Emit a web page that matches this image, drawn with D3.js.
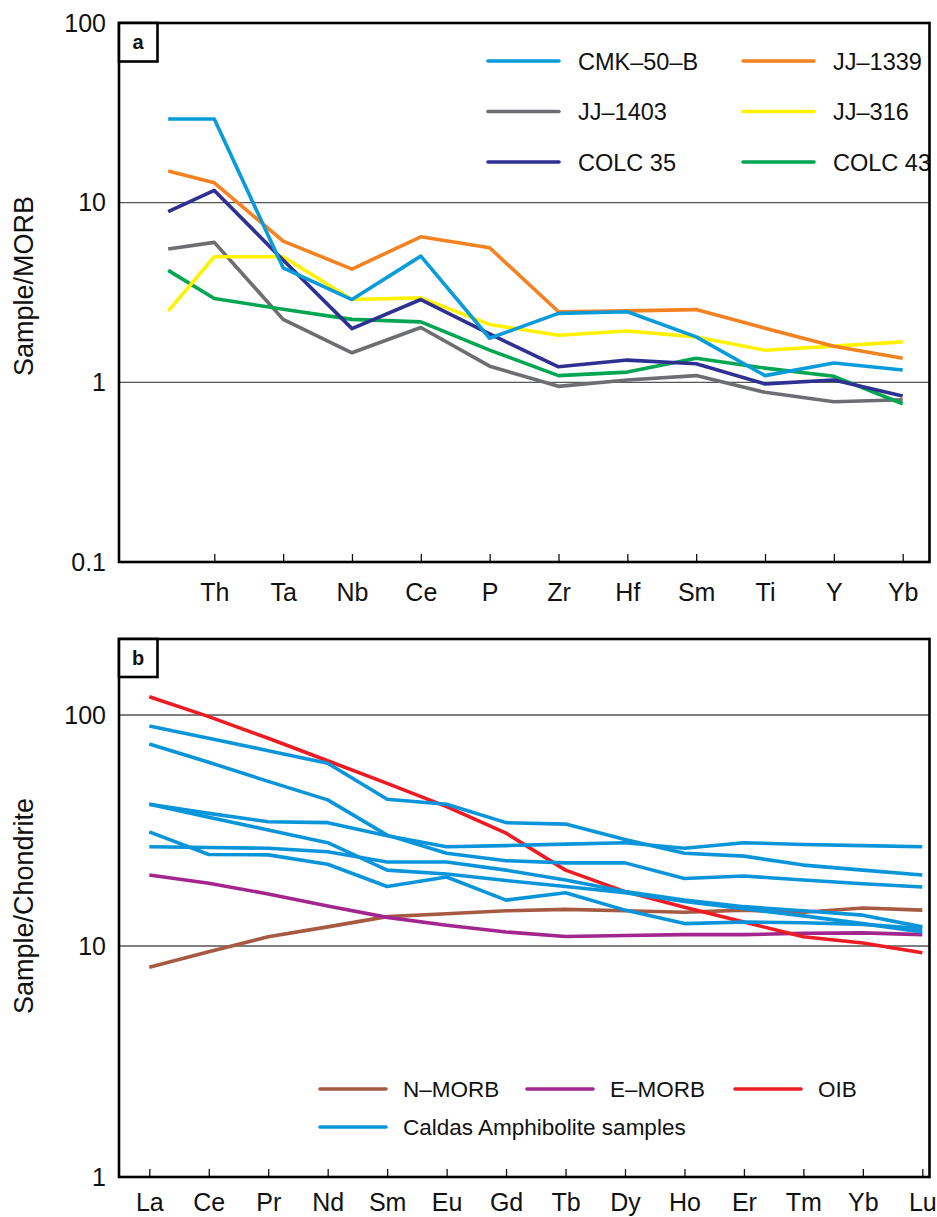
<!DOCTYPE html>
<html>
<head>
<meta charset="utf-8">
<script src="https://cdn.jsdelivr.net/npm/d3@7"></script>
<style>
  body { margin: 0; background: #fff; }
  text { font-family: "Liberation Sans", Arial, Helvetica, sans-serif; fill: #111; }
</style>
</head>
<body>
<script>
// ---- panel a : MORB normalised ----
var elementsA = ["", "Th", "Ta", "Nb", "Ce", "P", "Zr", "Hf", "Sm", "Ti", "Y", "Yb"];
var namesA = ["CMK–50–B", "JJ–1339", "JJ–1403", "JJ–316", "COLC 35", "COLC 43"];
var cmk50b  = [29.2, 29.2, 4.34, 2.89, 5.04, 1.76, 2.42, 2.47, 1.79, 1.09, 1.28, 1.17];
var jj1339  = [15.0, 12.9, 6.11, 4.27, 6.46, 5.61, 2.47, 2.50, 2.54, 2.00, 1.59, 1.36];
var jj1403  = [5.52, 6.01, 2.24, 1.46, 2.02, 1.23, 0.95, 1.03, 1.09, 0.88, 0.78, 0.80];
var jj316   = [2.49, 5.00, 5.00, 2.89, 2.95, 2.10, 1.83, 1.93, 1.79, 1.51, 1.59, 1.68];
var colc35  = [8.91, 11.7, 4.79, 1.99, 2.89, 1.86, 1.22, 1.33, 1.27, 0.98, 1.03, 0.84];
var colc43  = [4.20, 2.93, 2.55, 2.24, 2.17, 1.51, 1.09, 1.14, 1.36, 1.20, 1.08, 0.76];
var ticksA = [0.1, 1, 10, 100];

// ---- panel b : chondrite normalised REE ----
var elementsB = ["La", "Ce", "Pr", "Nd", "Sm", "Eu", "Gd", "Tb", "Dy", "Ho", "Er", "Tm", "Yb", "Lu"];
var nmorb = [8.09, 9.45, 10.97, 12.1, 13.4, 13.8, 14.2, 14.4, 14.2, 14.0, 14.3, 14.0, 14.6, 14.3];
var emorb = [20.3, 18.7, 16.8, 14.9, 13.3, 12.3, 11.5, 11.0, 11.1, 11.2, 11.2, 11.35, 11.4, 11.2];
var oib   = [120, 98.4, 79.3, 63.4, 50.6, 40.1, 30.8, 21.3, 17.2, 14.7, 12.7, 10.97, 10.3, 9.35];
var caldas1 = [89.6, 79.3, 70.1, 61.8, 43.2, 41.1, 34.2, 33.7, 28.9, 25.2, 24.5, 22.4, 21.3, 20.3];
var caldas2 = [74.9, 62.4, 51.6, 42.9, 30.2, 25.2, 23.4, 22.9, 22.9, 19.6, 20.1, 19.3, 18.6, 18.0];
var caldas3 = [41.1, 37.5, 34.5, 34.2, 30.0, 26.9, 27.2, 27.6, 28.0, 26.5, 28.0, 27.5, 27.2, 26.9];
var caldas4 = [41.1, 36.1, 31.8, 28.0, 21.3, 20.5, 19.2, 18.1, 17.0, 15.6, 14.5, 13.5, 12.5, 11.5];
var caldas5 = [31.2, 24.9, 24.8, 22.6, 18.1, 19.9, 15.8, 17.0, 14.3, 12.5, 12.7, 12.6, 12.4, 11.9];
var caldas6 = [26.9, 26.7, 26.5, 25.6, 23.1, 23.1, 21.3, 19.3, 17.2, 15.8, 14.8, 14.2, 13.6, 12.1];
var ticksB = [1, 10, 100];
var legendB = ["N–MORB", "E–MORB", "OIB", "Caldas Amphibolite samples"];

var colA = { "CMK–50–B": "#0a9bdb", "JJ–1339": "#f58220", "JJ–1403": "#6d6e71",
             "JJ–316": "#fff200", "COLC 35": "#2e3192", "COLC 43": "#00a651" };
var colB = { "N–MORB": "#a65a42", "E–MORB": "#a3268f", "OIB": "#ed1c24",
             "Caldas Amphibolite samples": "#0a95db" };

var W = 937, H = 1217;
var svg = d3.select('body').append('svg')
  .attr('width', W)
  .attr('height', H);

var frameL = 119, frameR = 929.5;

// ---------- panel a ----------
var topA = 23, botA = 562;
var ya = d3.scaleLog().domain([0.1, 100]).range([botA, topA]);
var xa = d3.scaleLinear().domain([1, 11]).range([214.3, 902.7]);
var firstOffset = 0.67; // unlabelled first element sits closer to Th
function posA(i) { return i === 0 ? xa(1 - firstOffset) : xa(i); }

var gA = svg.append('g');
[1, 10].forEach(function(v) {
  gA.append('line')
    .attr('x1', frameL).attr('x2', frameR)
    .attr('y1', ya(v)).attr('y2', ya(v))
    .attr('stroke', '#555').attr('stroke-width', 1.3);
});

var yAxisA = d3.axisLeft(ya).tickValues(ticksA).tickFormat(d3.format("~g"))
  .tickSize(0).tickPadding(13);
gA.append('g').attr('transform', 'translate(' + frameL + ',0)').call(yAxisA)
  .call(function(g) { g.select('.domain').remove(); })
  .selectAll('text').attr('font-size', 25).attr('font-family', 'Liberation Sans, Arial, sans-serif').attr('fill', '#111');

var xAxisA = d3.axisBottom(xa).tickValues(d3.range(1, 12))
  .tickFormat(function(i) { return elementsA[i]; })
  .tickSize(-8).tickPadding(21);
gA.append('g').attr('transform', 'translate(0,' + botA + ')').call(xAxisA)
  .call(function(g) { g.select('.domain').remove(); })
  .call(function(g) { g.selectAll('line').attr('stroke', '#111').attr('stroke-width', 1.3); })
  .selectAll('text').attr('font-size', 25).attr('font-family', 'Liberation Sans, Arial, sans-serif').attr('fill', '#111');

var lineA = d3.line().x(function(d, i) { return posA(i); }).y(function(d) { return ya(d); });
var seriesA = [
  { name: "JJ–1403", v: jj1403 },
  { name: "COLC 43", v: colc43 },
  { name: "JJ–316", v: jj316 },
  { name: "JJ–1339", v: jj1339 },
  { name: "COLC 35", v: colc35 },
  { name: "CMK–50–B", v: cmk50b }
];
seriesA.forEach(function(s) {
  gA.append('path')
    .attr('d', lineA(s.v))
    .attr('fill', 'none')
    .attr('stroke', colA[s.name])
    .attr('stroke-width', 3.6)
    .attr('stroke-linejoin', 'round');
});

// legend a, two columns
namesA.forEach(function(n, i) {
  var lx = (i % 2 === 0) ? 488 : 743;
  var ly = 61 + Math.floor(i / 2) * 50.5;
  gA.append('line').attr('x1', lx).attr('x2', lx + 71).attr('y1', ly).attr('y2', ly)
    .attr('stroke', colA[n]).attr('stroke-width', 3.6).attr('stroke-linecap', 'round');
  gA.append('text').attr('x', lx + 90).attr('y', ly + 8.5).attr('font-size', 23.5).text(n);
});

gA.append('rect').attr('x', frameL).attr('y', topA).attr('width', frameR - frameL).attr('height', botA - topA)
  .attr('fill', 'none').attr('stroke', '#000').attr('stroke-width', 2.6);
gA.append('rect').attr('x', frameL).attr('y', topA).attr('width', 38.5).attr('height', 38.5)
  .attr('fill', '#fff').attr('stroke', '#000').attr('stroke-width', 2.6);
gA.append('text').attr('x', frameL + 19).attr('y', topA + 26).attr('text-anchor', 'middle')
  .attr('font-size', 20).attr('font-weight', 'bold').text('a');

svg.append('text')
  .attr('transform', 'translate(33,286) rotate(-90)')
  .attr('text-anchor', 'middle').attr('font-size', 27).text('Sample/MORB');

// ---------- panel b ----------
var topB = 639, botB = 1177;
var yb = d3.scaleLog().domain([1, 100]).range([botB, 715]);
var xb = d3.scalePoint().domain(elementsB).range([149.3, 922.3]);

var gB = svg.append('g');
[10, 100].forEach(function(v) {
  gB.append('line')
    .attr('x1', frameL).attr('x2', frameR)
    .attr('y1', yb(v)).attr('y2', yb(v))
    .attr('stroke', '#555').attr('stroke-width', 1.3);
});

var yAxisB = d3.axisLeft(yb).tickValues(ticksB).tickFormat(d3.format("~g"))
  .tickSize(0).tickPadding(13);
gB.append('g').attr('transform', 'translate(' + frameL + ',0)').call(yAxisB)
  .call(function(g) { g.select('.domain').remove(); })
  .selectAll('text').attr('font-size', 25).attr('font-family', 'Liberation Sans, Arial, sans-serif').attr('fill', '#111');

var xAxisB = d3.axisBottom(xb).tickSize(-8).tickPadding(16);
gB.append('g').attr('transform', 'translate(0,' + botB + ')').call(xAxisB)
  .call(function(g) { g.select('.domain').remove(); })
  .call(function(g) { g.selectAll('line').attr('stroke', '#111').attr('stroke-width', 1.3); })
  .selectAll('text').attr('font-size', 25).attr('font-family', 'Liberation Sans, Arial, sans-serif').attr('fill', '#111');

var lineB = d3.line().x(function(d, i) { return xb(elementsB[i]); }).y(function(d) { return yb(d); });
var seriesB = [
  { name: "N–MORB", v: nmorb },
  { name: "E–MORB", v: emorb },
  { name: "OIB", v: oib },
  { name: "Caldas Amphibolite samples", v: caldas1 },
  { name: "Caldas Amphibolite samples", v: caldas2 },
  { name: "Caldas Amphibolite samples", v: caldas3 },
  { name: "Caldas Amphibolite samples", v: caldas4 },
  { name: "Caldas Amphibolite samples", v: caldas5 },
  { name: "Caldas Amphibolite samples", v: caldas6 }
];
seriesB.forEach(function(s) {
  gB.append('path')
    .attr('d', lineB(s.v))
    .attr('fill', 'none')
    .attr('stroke', colB[s.name])
    .attr('stroke-width', 3.6)
    .attr('stroke-linejoin', 'round');
});

// legend b
var legPos = [[320, 1089], [527, 1089], [735, 1089], [320, 1127]];
legendB.forEach(function(n, i) {
  var lx = legPos[i][0], ly = legPos[i][1];
  gB.append('line').attr('x1', lx).attr('x2', lx + 66).attr('y1', ly).attr('y2', ly)
    .attr('stroke', colB[n]).attr('stroke-width', 3.6).attr('stroke-linecap', 'round');
  gB.append('text').attr('x', lx + 83).attr('y', ly + 8).attr('font-size', 22.5).text(n);
});

gB.append('rect').attr('x', frameL).attr('y', topB).attr('width', frameR - frameL).attr('height', botB - topB)
  .attr('fill', 'none').attr('stroke', '#000').attr('stroke-width', 2.6);
gB.append('rect').attr('x', frameL).attr('y', topB).attr('width', 38.5).attr('height', 38)
  .attr('fill', '#fff').attr('stroke', '#000').attr('stroke-width', 2.6);
gB.append('text').attr('x', frameL + 19).attr('y', topB + 26).attr('text-anchor', 'middle')
  .attr('font-size', 20).attr('font-weight', 'bold').text('b');

svg.append('text')
  .attr('transform', 'translate(33,906) rotate(-90)')
  .attr('text-anchor', 'middle').attr('font-size', 27).text('Sample/Chondrite');
</script>
</body>
</html>
